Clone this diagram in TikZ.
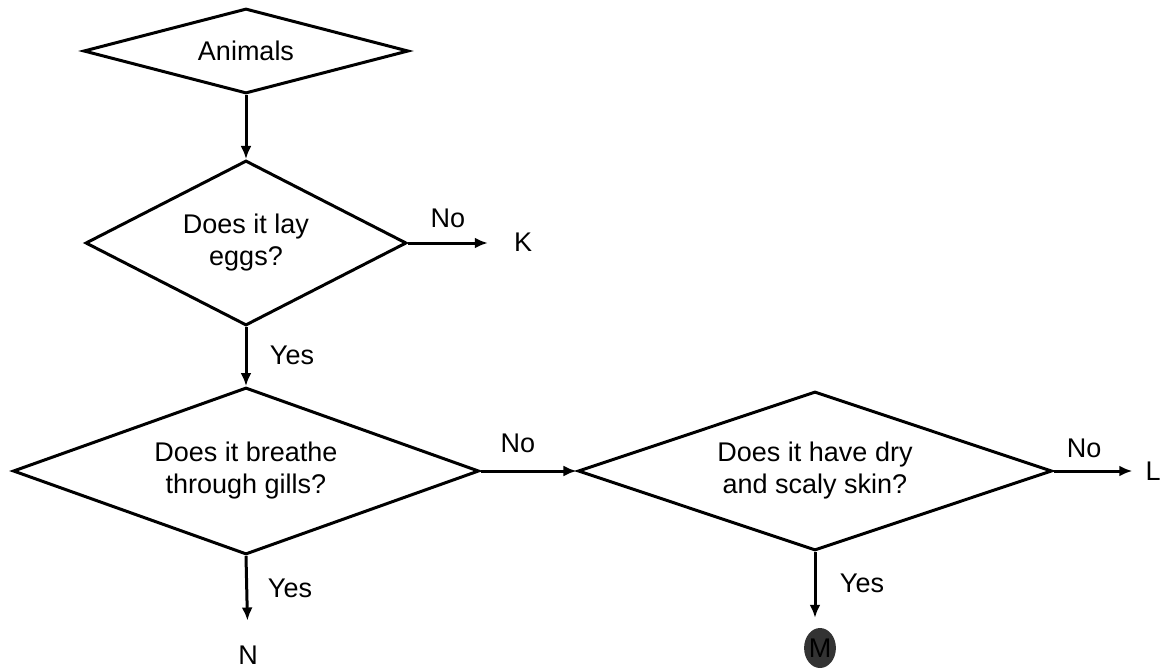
\documentclass[tikz,border=0pt]{standalone}
\usepackage{fontspec}
\setmainfont{Liberation Sans}
\usetikzlibrary{positioning, shapes.geometric, arrows, arrows.meta}

\begin{document}
\begin{tikzpicture}[x=1pt, y=-1pt, >={Latex[length=13pt, width=11pt]},
    question/.style={diamond, aspect=2.8, draw, line width=3pt, inner sep=0pt, align=center,
                     font=\fontsize{27}{32}\selectfont},
    txt/.style={inner sep=0pt, font=\fontsize{27}{32}\selectfont},
    arr/.style={->, line width=3pt}]
    \useasboundingbox (0,0) rectangle (1167,669);

    \node[question, minimum width=325pt, minimum height=85pt] (animals) at (246,51) {Animals};
    \node[question, minimum width=321pt, minimum height=165pt] (layeggs) at (246,243) {Does it lay\\eggs?};
    \node[question, minimum width=466pt, minimum height=167pt] (gills) at (246,471) {Does it breathe\\through gills?};
    \node[question, minimum width=474pt, minimum height=159pt] (scaly) at (815,471) {Does it have dry\\and scaly skin?};

    \node[txt] (k) at (523,242) {K};
    \node[txt] (l) at (1153,471) {L};
    \node[txt] (n) at (248,655) {N};
    \node[txt, ellipse, fill=black!80, minimum width=30pt, minimum height=40pt] (m) at (820,648) {M};

    \node[txt] (no1) at (448,218) {No};
    \node[txt] (no2) at (518,443) {No};
    \node[txt] (no3) at (1084,448) {No};
    \node[txt] (yes1) at (292,355) {Yes};
    \node[txt] (yes2) at (290,588) {Yes};
    \node[txt] (yes3) at (862,583) {Yes};

    \draw[arr] (animals) -- (layeggs);
    \draw[arr, shorten >=26pt] (layeggs.east) -- (k.west |- layeggs.east);
    \draw[arr] (layeggs) -- (gills);
    \draw[arr] (gills) -- (scaly);
    \draw[arr, shorten >=13pt] (scaly.east) -- (l.west |- scaly.east);
    \draw[arr, shorten >=25pt] (gills.south) -- (n.north);
    \draw[arr, shorten >=10pt] (scaly.south) -- (m.north -| scaly.south);
\end{tikzpicture}
\end{document}
